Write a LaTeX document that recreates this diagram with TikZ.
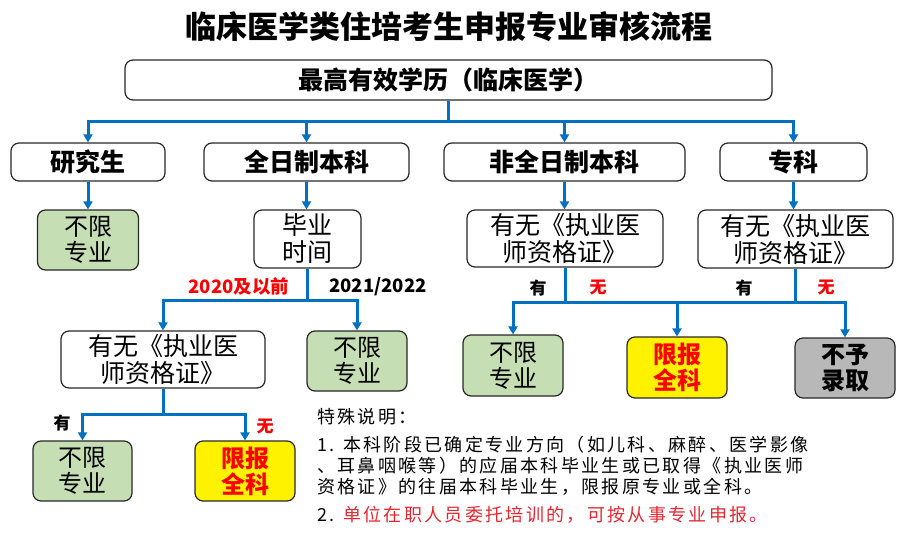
\documentclass[tikz,border=0pt]{standalone}
\usepackage{fontspec}
\setmainfont{Noto Sans CJK SC}
\newfontfamily\notefont[LetterSpace=13]{Noto Sans CJK SC}
\usetikzlibrary{arrows.meta}
\definecolor{lineblue}{RGB}{0,112,192}
\definecolor{boxgreen}{RGB}{197,222,180}
\definecolor{boxgray}{RGB}{184,184,184}
\definecolor{boxborder}{RGB}{40,40,40}
\definecolor{labelred}{RGB}{255,0,0}
\definecolor{notered}{RGB}{228,40,50}
\begin{document}
\begin{tikzpicture}[x=1pt,y=-1pt,
  box/.style={draw=boxborder, line width=1.2pt, rounded corners=8pt, align=center, inner sep=0pt, fill=white},
  lvl/.style={box, minimum height=38pt, font=\bfseries\fontsize{25}{25}\selectfont},
  qbox/.style={box, minimum height=58pt, font=\fontsize{25}{27}\selectfont},
  greenbox/.style={box, fill=boxgreen, minimum width=100pt, minimum height=60pt, font=\fontsize{24}{26}\selectfont},
  yellowbox/.style={box, fill=yellow, minimum width=100pt, minimum height=60pt, text=labelred, font=\bfseries\fontsize{24}{26}\selectfont},
  graybox/.style={box, fill=boxgray, minimum width=100pt, minimum height=60pt, font=\bfseries\fontsize{24}{26}\selectfont},
  conn/.style={draw=lineblue, line width=3pt},
  arr/.style={conn, -{Triangle[width=9pt,length=8pt]}},
  lab/.style={inner sep=0pt, font=\bfseries\fontsize{17}{17}\selectfont},
  redlab/.style={lab, text=labelred},
  yearlab/.style={inner sep=0pt, font=\bfseries\fontsize{18.5}{18.5}\selectfont},
  note/.style={anchor=west, inner sep=0pt, font=\notefont\fontsize{18}{18}\selectfont}
]
\fill[white] (0,0) rectangle (899,535);
\useasboundingbox (0,0) rectangle (899,535);

% title
\node[font=\bfseries\fontsize{31}{31}\selectfont] (title) at (449,27) {临床医学类住培考生申报专业审核流程};

% top box
\node[box, minimum width=647pt, minimum height=40pt, font=\bfseries\fontsize{25}{25}\selectfont] (top) at (448.5,80) {最高有效学历（临床医学）};

% level 2
\node[lvl, minimum width=154pt] (yjs) at (88,162) {研究生};
\node[lvl, minimum width=205pt] (qrz) at (306.5,162) {全日制本科};
\node[lvl, minimum width=241pt] (fqrz) at (564.5,162) {非全日制本科};
\node[lvl, minimum width=147pt] (zk) at (793.5,162) {专科};

% level 3
\node[greenbox, minimum width=101pt] (g1) at (88,240) {不限\\专业};
\node[qbox, minimum width=107pt] (byt) at (307.5,239) {毕业\\时间};
\node[qbox, minimum width=196pt, minimum height=57pt] (zs1) at (565,238.5) {有无《执业医\\师资格证》};
\node[qbox, minimum width=195pt] (zs2) at (795.5,239) {有无《执业医\\师资格证》};

% level 4 left
\node[qbox, minimum width=204pt, minimum height=57pt] (zs3) at (163,359.5) {有无《执业医\\师资格证》};
\node[greenbox] (g2) at (357,361) {不限\\专业};

% level 5 left
\node[greenbox, minimum width=99pt] (g3) at (82.5,471) {不限\\专业};
\node[yellowbox] (y1) at (245,471) {限报\\全科};

% bottom right
\node[greenbox, minimum height=61pt] (g4) at (513,365.5) {不限\\专业};
\node[yellowbox, minimum height=61pt] (y2) at (677,367.5) {限报\\全科};
\node[graybox] (nq) at (845,368) {不予\\录取};

% junctions
\coordinate (j0) at (448.5,121);
\coordinate (j1) at (307.5,300);
\coordinate (j2) at (163,414);
\coordinate (j3) at (565,302);
\coordinate (j4) at (795.5,302);

% connectors
\draw[conn] (top) -- (j0);
\draw[arr] (j0) -| (yjs);
\draw[arr] (j0) -| (qrz);
\draw[arr] (j0) -| (fqrz);
\draw[arr] (j0) -| (zk);

\draw[arr] (yjs) -- (yjs |- g1.north);
\draw[arr] (qrz) -- (qrz |- byt.north);
\draw[arr] (fqrz) -- (fqrz |- zs1.north);
\draw[arr] (zk) -- (zk |- zs2.north);

\draw[conn] (byt) -- (j1);
\draw[arr] (j1) -| (zs3);
\draw[arr] (j1) -| (g2);

\draw[conn] (zs3) -- (j2);
\draw[arr] (j2) -| (g3);
\draw[arr] (j2) -| (y1);

\draw[conn] (zs1) -- (j3);
\draw[arr] (j3) -| (g4);
\draw[arr] (j3) -| (y2);
\draw[conn] (zs2) -- (j4);
\draw[conn] (j3) -- (j4);
\draw[arr] (j4) -| (nq);

% branch labels
\node[yearlab, text=labelred] (l2020) at (239,286) {2020及以前};
\node[yearlab] (l2021) at (378,287) {2021/2022};
\node[lab] (lyou1) at (62,423) {有};
\node[redlab] (lwu1) at (265,427) {无};
\node[lab] (lyou2) at (538,288) {有};
\node[redlab] (lwu2) at (598,288) {无};
\node[lab] (lyou3) at (744,288) {有};
\node[redlab] (lwu3) at (826,288) {无};

% notes
\node[note] (n0) at (317,417) {特殊说明：};
\node[note] (n1) at (317,445) {1. 本科阶段已确定专业方向（如儿科、麻醉、医学影像};
\node[note] (n2) at (317,466) {、耳鼻咽喉等）的应届本科毕业生或已取得《执业医师};
\node[note] (n3) at (317,487) {资格证》的往届本科毕业生，限报原专业或全科。};
\node[note] (n4) at (317,515) {2. \textcolor{notered}{单位在职人员委托培训的，可按从事专业申报。}};
\end{tikzpicture}
\end{document}
